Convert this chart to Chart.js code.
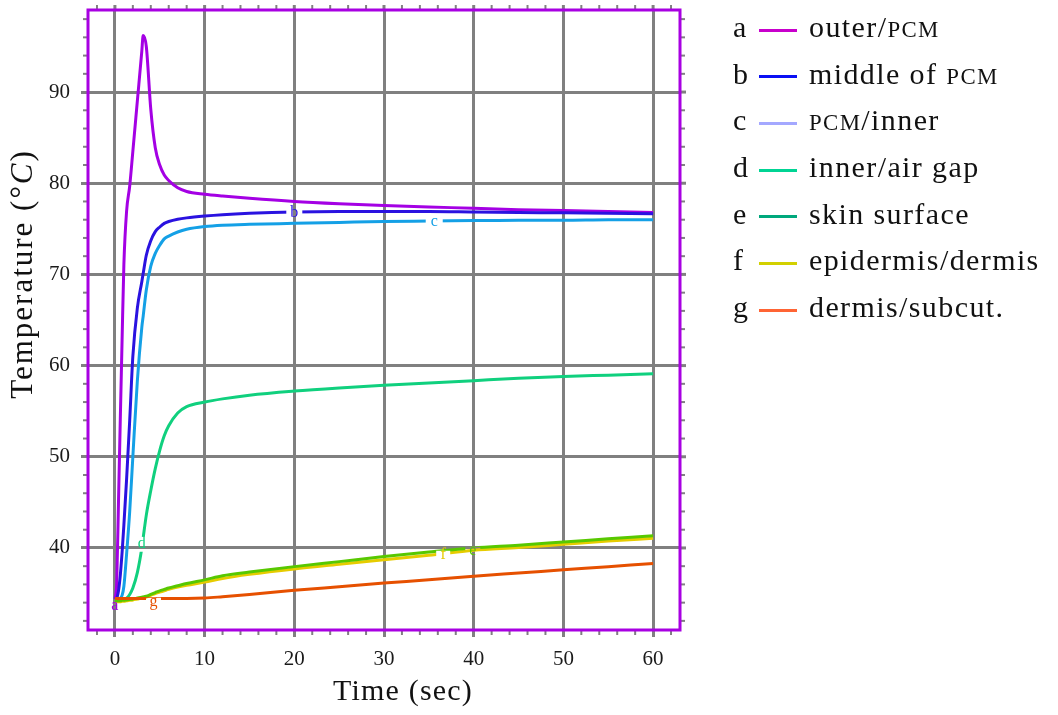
<!DOCTYPE html>
<html>
<head>
<meta charset="utf-8">
<script src="https://cdn.jsdelivr.net/npm/chart.js@4.4.1/dist/chart.umd.min.js"></script>
<style>
  html, body { margin: 0; padding: 0; background: #fff; }
  #wrap { position: relative; width: 1058px; height: 715px; }
  #legend {
    position: absolute; left: 733px; top: 4px;
    font-family: "Liberation Serif", serif; font-size: 30px;
    line-height: 46.7px; color: #111; letter-spacing: 1.4px;
  }
  #legend .row { white-space: nowrap; height: 46.7px; }
  #legend .letter { display: inline-block; width: 26px; }
  #legend .swatch { display: inline-block; width: 38px; height: 3px; vertical-align: middle; margin-right: 12px; }
  #legend .sc { font-size: 0.76em; }
</style>
</head>
<body>
<div id="wrap">
  <canvas id="myChart" width="1058" height="715"></canvas>
  <div id="legend"></div>
</div>
<script>
// time (sec)
const times = [0, 0.2, 0.4, 0.6, 0.8, 1.0, 1.3, 1.65, 2.0, 2.5, 3.0, 3.15, 3.5, 4.0, 4.5, 5.0, 5.5,
  6, 7, 8, 10, 12, 15, 20, 25, 30, 35, 40, 45, 50, 55, 60];

// temperatures (deg C)
const outerPcm = [34.4, 36.2, 45.1, 54.1, 62.8, 71.1, 76.9, 79.7, 83.5, 89.0, 94.5, 96.2, 95.0, 88.1, 83.9, 82.0, 80.9,
  80.3, 79.5, 79.1, 78.8, 78.6, 78.35, 78.0, 77.75, 77.55, 77.4, 77.25, 77.1, 77.0, 76.9, 76.8];
const middlePcm = [34.4, 34.5, 35.3, 37.0, 39.5, 42.5, 47.5, 54.0, 61.0, 66.3, 69.2, 70.1, 72.1, 73.7, 74.7, 75.2, 75.6,
  75.8, 76.05, 76.2, 76.4, 76.55, 76.7, 76.85, 76.9, 76.9, 76.9, 76.85, 76.8, 76.75, 76.7, 76.65];
const pcmInner = [34.4, 34.4, 34.4, 34.5, 34.8, 35.8, 39.3, 44.0, 50.0, 58.3, 64.2, 65.4, 68.3, 70.9, 72.3, 73.2, 73.9,
  74.2, 74.65, 74.95, 75.25, 75.4, 75.5, 75.6, 75.7, 75.8, 75.85, 75.9, 75.95, 75.95, 76.0, 76.0];
const innerAirGap = [34.4, 34.4, 34.4, 34.4, 34.4, 34.4, 34.5, 34.9, 35.6, 37.3, 40.0, 41.1, 43.6, 46.3, 48.7, 50.7, 52.3,
  53.4, 54.8, 55.5, 56.0, 56.35, 56.75, 57.2, 57.55, 57.85, 58.1, 58.35, 58.6, 58.8, 58.95, 59.1];
const skinSurface = [34.2, 34.2, 34.2, 34.2, 34.25, 34.25, 34.3, 34.35, 34.4, 34.5, 34.6, 34.62, 34.7, 34.9, 35.1, 35.3, 35.45,
  35.6, 35.85, 36.1, 36.5, 36.95, 37.35, 37.95, 38.5, 39.05, 39.55, 40.0, 40.3, 40.65, 41.0, 41.35];
const epiDermis = [34.1, 34.1, 34.1, 34.1, 34.15, 34.15, 34.2, 34.25, 34.3, 34.4, 34.5, 34.52, 34.6, 34.8, 35.0, 35.15, 35.3,
  35.45, 35.7, 35.9, 36.25, 36.65, 37.1, 37.7, 38.2, 38.7, 39.2, 39.75, 40.05, 40.4, 40.75, 41.05];
const dermisSubcut = [34.45, 34.45, 34.45, 34.45, 34.45, 34.45, 34.45, 34.45, 34.45, 34.45, 34.45, 34.45, 34.45, 34.45, 34.45, 34.45, 34.45,
  34.45, 34.45, 34.45, 34.5, 34.65, 34.9, 35.35, 35.75, 36.15, 36.5, 36.9, 37.25, 37.6, 37.95, 38.3];

const xTicks = [0, 10, 20, 30, 40, 50, 60];
const yTicks = [40, 50, 60, 70, 80, 90];

const letters = ["a", "b", "c", "d", "e", "f", "g"];
const names = ["outer/PCM", "middle of PCM", "PCM/inner", "inner/air gap", "skin surface", "epidermis/dermis", "dermis/subcut."];
const series = [outerPcm, middlePcm, pcmInner, innerAirGap, skinSurface, epiDermis, dermisSubcut];
const lineColors = ["#a400e4", "#2a12e0", "#14a0e6", "#10d07e", "#58c800", "#e6cc00", "#e65000"];
const legendColors = ["#c800cc", "#0a10f4", "#a4a8ff", "#00d494", "#00a87c", "#d2d000", "#ff6434"];
const drawOrder = [6, 5, 4, 3, 1, 2, 0];

// letters written on the curves (t, temp) and which curves are cut there
const curveLabels = [
  { text: "a", ds: 0, t: 0.0, v: 33.7, cut: [] },
  { text: "b", ds: 1, t: 20.0, v: 76.75, cut: [1], w: 16, h: 10 },
  { text: "c", ds: 2, t: 35.6, v: 75.75, cut: [2], w: 17, h: 10 },
  { text: "d", ds: 3, t: 3.0, v: 40.4, cut: [3], w: 12, h: 15 },
  { text: "e", ds: 4, t: 39.9, v: 39.7, cut: [4], w: 15, h: 8 },
  { text: "f", ds: 5, t: 36.6, v: 39.2, cut: [4, 5], w: 14, h: 9 },
  { text: "g", ds: 6, t: 4.3, v: 34.1, cut: [6], w: 15, h: 8 },
];

const ctx = document.getElementById("myChart");
const serif = "'Liberation Serif', serif";
Chart.defaults.font.family = serif;

const framePlugin = {
  id: "frame",
  beforeDatasetDraw(chart, args) {
    const c = chart.ctx;
    const a = chart.chartArea;
    const sx = chart.scales.x, sy = chart.scales.y;
    c.save();
    c.beginPath();
    c.rect(a.left - 5, a.top - 5, a.right - a.left + 10, a.bottom - a.top + 10);
    curveLabels.forEach(function (l) {
      if (l.cut.indexOf(args.index) < 0) return;
      const px = sx.getPixelForValue(l.t), py = sy.getPixelForValue(l.v);
      c.rect(px - l.w / 2, py - l.h / 2, l.w, l.h);
    });
    c.clip("evenodd");
  },
  afterDatasetDraw(chart) {
    chart.ctx.restore();
  },
  beforeDatasetsDraw(chart) {
    const c = chart.ctx;
    const a = chart.chartArea;
    const sx = chart.scales.x, sy = chart.scales.y;
    c.save();
    c.strokeStyle = "#808080";
    // grid stubs top / right
    c.lineWidth = 3;
    xTicks.forEach(function (v) {
      const p = sx.getPixelForValue(v);
      c.beginPath(); c.moveTo(p, a.top - 5); c.lineTo(p, a.top); c.stroke();
    });
    yTicks.forEach(function (v) {
      const p = sy.getPixelForValue(v);
      c.beginPath(); c.moveTo(a.right, p); c.lineTo(a.right + 6, p); c.stroke();
    });
    // minor ticks
    c.lineWidth = 2;
    for (let v = -2; v <= 62; v += 2) {
      if (v % 10 === 0) continue;
      const p = sx.getPixelForValue(v);
      c.beginPath(); c.moveTo(p, a.bottom); c.lineTo(p, a.bottom + 5); c.stroke();
      c.beginPath(); c.moveTo(p, a.top); c.lineTo(p, a.top - 5); c.stroke();
    }
    for (let v = 32; v <= 98; v += 2) {
      if (v % 10 === 0) continue;
      const p = sy.getPixelForValue(v);
      c.beginPath(); c.moveTo(a.left - 5, p); c.lineTo(a.left, p); c.stroke();
      c.beginPath(); c.moveTo(a.right, p); c.lineTo(a.right + 5, p); c.stroke();
    }
    c.strokeStyle = "#a800e2";
    c.lineWidth = 3;
    c.strokeRect(a.left, a.top, a.right - a.left, a.bottom - a.top);
    c.restore();
  },
  afterDatasetsDraw(chart) {
    const c = chart.ctx;
    const sx = chart.scales.x, sy = chart.scales.y;
    c.save();
    c.font = "16px " + serif;
    c.textAlign = "center";
    c.textBaseline = "middle";
    curveLabels.forEach(function (l) {
      c.fillStyle = lineColors[l.ds];
      c.fillText(l.text, sx.getPixelForValue(l.t), sy.getPixelForValue(l.v));
    });
    c.restore();
  },
  afterDraw(chart) {
    const c = chart.ctx;
    c.save();
    c.fillStyle = "#111";
    c.textBaseline = "alphabetic";
    // x title
    c.letterSpacing = "1.2px";
    c.font = "30px " + serif;
    c.textAlign = "center";
    c.fillText("Time (sec)", 403, 700);
    // y title, with an italic C
    c.letterSpacing = "2px";
    const parts = [["Temperature (°", "31px " + serif], ["C", "italic 31px " + serif], [")", "31px " + serif]];
    let total = 0;
    parts.forEach(function (p) { c.font = p[1]; total += c.measureText(p[0]).width; });
    c.translate(32, 274);
    c.rotate(-Math.PI / 2);
    c.textAlign = "left";
    let x = -total / 2;
    parts.forEach(function (p) {
      c.font = p[1];
      c.fillText(p[0], x, 0);
      x += c.measureText(p[0]).width;
    });
    c.restore();
  },
};

new Chart(ctx, {
  type: "line",
  data: {
    datasets: series.map(function (s, i) {
      return {
        label: letters[i] + " " + names[i],
        data: times.map(function (t, k) { return { x: t, y: s[k] }; }),
        borderColor: lineColors[i],
        backgroundColor: lineColors[i],
        borderWidth: 3,
        pointRadius: 0,
        cubicInterpolationMode: "monotone",
        order: drawOrder[i],
      };
    }),
  },
  options: {
    responsive: false,
    animation: false,
    layout: { padding: { top: 10, right: 378, left: 0, bottom: 0 } },
    plugins: { legend: { display: false }, tooltip: { enabled: false } },
    scales: {
      x: {
        type: "linear",
        min: -3,
        max: 63,
        afterBuildTicks: function (s) { s.ticks = xTicks.map(function (v) { return { value: v }; }); },
        afterFit: function (s) { s.height = 85; s.paddingLeft = 0; s.paddingRight = 0; },
        grid: { color: "#808080", lineWidth: 3, tickLength: 7, tickColor: "#808080" },
        border: { display: false },
        ticks: { font: { size: 21 }, color: "#1a1a1a", padding: 10, maxRotation: 0, autoSkip: false },
      },
      y: {
        type: "linear",
        min: 31,
        max: 99,
        afterBuildTicks: function (s) { s.ticks = yTicks.map(function (v) { return { value: v }; }); },
        afterFit: function (s) { s.width = 88; s.paddingTop = 0; s.paddingBottom = 0; },
        grid: { color: "#808080", lineWidth: 3, tickLength: 7, tickColor: "#808080" },
        border: { display: false },
        ticks: { font: { size: 21 }, color: "#1a1a1a", padding: 11, autoSkip: false },
      },
    },
  },
  plugins: [framePlugin],
});

// legend
const legend = document.getElementById("legend");
names.forEach(function (n, i) {
  const row = document.createElement("div");
  row.className = "row";
  const html = n.replace("PCM", '<span class="sc">PCM</span>');
  row.innerHTML = '<span class="letter">' + letters[i] + '</span><span class="swatch" style="background:' +
    legendColors[i] + '"></span>' + html;
  legend.appendChild(row);
});
</script>
</body>
</html>
